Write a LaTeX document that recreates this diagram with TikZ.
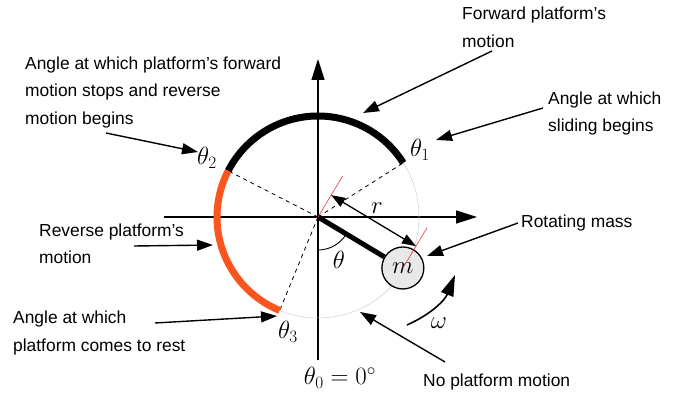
\documentclass[tikz,border=0pt]{standalone}
\usepackage{fontspec}
\setmainfont{Liberation Sans}
\usetikzlibrary{arrows.meta,calc}
\definecolor{orangeR}{RGB}{250,85,30}
\definecolor{redtick}{RGB}{225,60,60}
\definecolor{massfill}{RGB}{232,232,232}
\begin{document}
\begin{tikzpicture}[x=1pt,y=1pt,
  lbl/.style={font=\fontsize{17.4}{27.5}\selectfont, align=left, inner sep=0pt, anchor=west},
  ang/.style={font=\fontsize{25}{28}\selectfont, inner sep=0pt},
  callout/.style={line width=1.4pt, -{Triangle[length=16pt,width=11pt]}},
  axis/.style={line width=1.3pt, -{Triangle[length=21pt,width=13pt]}},
  dsh/.style={line width=0.8pt, dash pattern=on 4pt off 4pt}]
\path[use as bounding box] (0,0) rectangle (692,401);
\coordinate (O) at (318,184);
% axes
\coordinate (vb) at (318,41);
\coordinate (vt) at (318,342);
\coordinate (hl) at (164,184);
\coordinate (hr) at (477,184);
\draw[axis] (vb) -- (vt);
\draw[axis] (hl) -- (hr);
% circle
\draw[gray!40, line width=0.5pt] (O) circle[radius=101];
\coordinate (p1) at ($(O)+(32.4:101)$);
\coordinate (p2) at ($(O)+(152.8:101)$);
\coordinate (p3) at ($(O)+(247.7:101)$);
\draw[dsh] (O) -- (p1);
\draw[dsh] (O) -- (p2);
\draw[dsh] (O) -- (p3);
\draw[line width=7pt] (p1) arc[start angle=32.4, end angle=152.8, radius=101];
\draw[orangeR, line width=7pt] (p2) arc[start angle=152.8, end angle=247.7, radius=101];
% rod and mass
\node[circle, draw, line width=1.3pt, fill=massfill, minimum size=42pt, inner sep=0pt,
  font=\fontsize{25}{28}\selectfont] (m) at ($(O)+(-31:99)$) {$m$};
\draw[line width=5pt] (O) -- (m);
\draw[redtick, line width=0.6pt] (O) -- ++(59:48);
\draw[redtick, line width=0.6pt] (m.center) -- ++(59:47);
% r dimension
\coordinate (ra) at ($(O)+(59:25.5)$);
\coordinate (rb) at ($(ra)+(-31:99)$);
\draw[line width=1.3pt, {Triangle[length=14pt,width=10pt]}-{Triangle[length=14pt,width=10pt]}] (ra) -- (rb);
\node[ang] (rl) at (377,193) {$r$};
% theta angle
\draw[line width=0.9pt] (O) ++(-90:33) arc[start angle=-90, end angle=-31, radius=33];
\node[ang] (th) at (339,141) {$\theta$};
% omega
\coordinate (wa) at (407,76);
\coordinate (wb) at (455,126);
\draw[line width=1.6pt, -{Triangle[length=21pt,width=13pt]}] (wa) to[bend right=22] (wb);
\node[ang] (wl) at (439,78) {$\omega$};
% angle labels
\node[ang] (t1) at (420,251) {$\theta_1$};
\node[ang] (t2) at (207,243) {$\theta_2$};
\node[ang] (t3) at (288,69) {$\theta_3$};
\node[font=\fontsize{27}{30}\selectfont, inner sep=0pt] (t0) at (340,23) {$\theta_0 = 0^\circ$};
% text labels
\node[lbl] (fwd) at (462,373.5) {Forward platform’s\\motion};
\node[lbl] (sld) at (548,287.5) {Angle at which\\sliding begins};
\node[lbl] (stp) at (25,308.7) {Angle at which platform’s forward\\motion stops and reverse\\motion begins};
\node[lbl] (rev) at (39,157) {Reverse platform’s\\motion};
\node[lbl] (rst) at (13,68) {Angle at which\\platform comes to rest};
\node[lbl] (rot) at (521,177.7) {Rotating mass};
\node[lbl] (nom) at (423,19.3) {No platform motion};
% callouts
\coordinate (fa) at (492,350); \coordinate (fb) at (363,288);
\coordinate (sa) at (543,293); \coordinate (sb) at (436,261);
\coordinate (ta) at (106,268); \coordinate (tb) at (198,249);
\coordinate (va) at (134,155); \coordinate (vb2) at (213,156);
\coordinate (qa) at (155,78); \coordinate (qb) at (277,85);
\coordinate (ma) at (518,178); \coordinate (mb) at (427,145);
\coordinate (na) at (445,39); \coordinate (nb) at (360,89);
\draw[callout] (fa) -- (fb);
\draw[callout] (sa) -- (sb);
\draw[callout] (ta) -- (tb);
\draw[callout] (va) -- (vb2);
\draw[callout] (qa) -- (qb);
\draw[callout] (ma) -- (mb);
\draw[callout] (na) -- (nb);
\end{tikzpicture}
\end{document}
